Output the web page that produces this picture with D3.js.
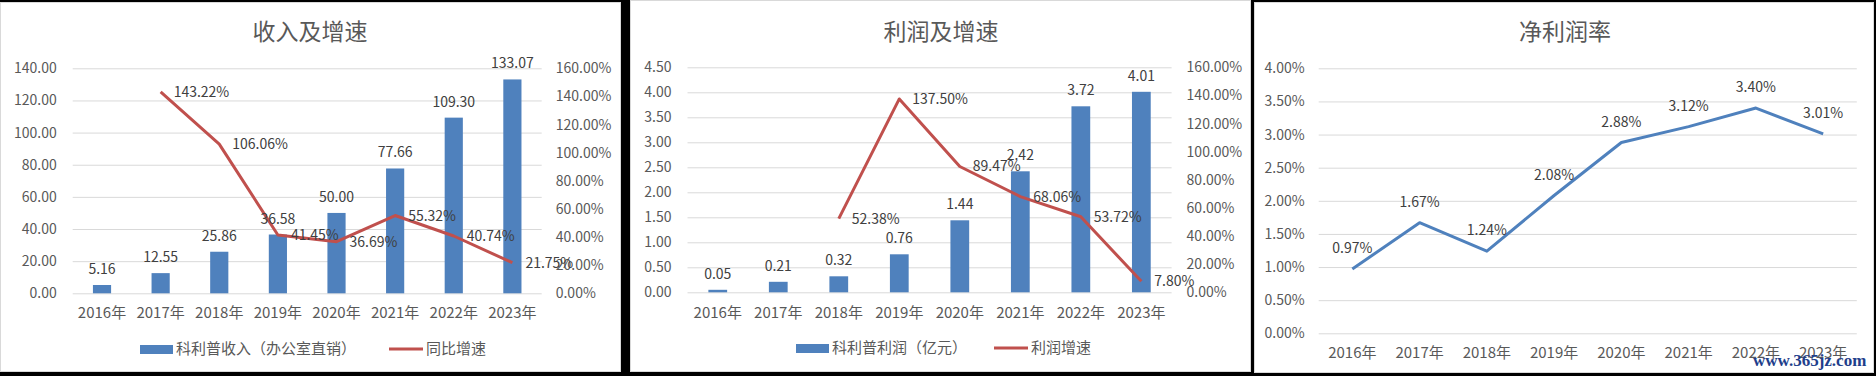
<!DOCTYPE html>
<html lang="zh">
<head>
<meta charset="UTF-8">
<title>科利普 收入 利润 净利润率</title>
<script src="https://cdn.jsdelivr.net/npm/d3@7"></script>
<style>
    html, body { margin: 0; height: 100%; overflow: hidden; background: #fff; }
    svg text { font-family: "Noto Sans CJK SC", "Noto Sans", sans-serif; }
</style>
</head>
<body>
<svg id="svg"></svg>
<script>
    // data
    const years = ['2016年', '2017年', '2018年', '2019年', '2020年', '2021年', '2022年', '2023年'];
    const revenue = [5.16, 12.55, 25.86, 36.58, 50.00, 77.66, 109.30, 133.07];
    const revenueGrowth = [null, 143.22, 106.06, 41.45, 36.69, 55.32, 40.74, 21.75];
    const profit = [0.05, 0.21, 0.32, 0.76, 1.44, 2.42, 3.72, 4.01];
    const profitGrowth = [null, null, 52.38, 137.50, 89.47, 68.06, 53.72, 7.80];
    const netMargin = [0.97, 1.67, 1.24, 2.08, 2.88, 3.12, 3.40, 3.01];

    const revenueTicks = [0, 20, 40, 60, 80, 100, 120, 140];
    const profitTicks = [0, 0.5, 1, 1.5, 2, 2.5, 3, 3.5, 4, 4.5];
    const growthTicks = [0, 20, 40, 60, 80, 100, 120, 140, 160];
    const marginTicks = [0, 0.5, 1, 1.5, 2, 2.5, 3, 3.5, 4];

    const W = 1876, H = 376;
    const BLUE = '#4f81bd', RED = '#c0504d', GRID = '#d9d9d9';
    const svg = d3.select('#svg').attr('width', W).attr('height', H);

    // frames
    svg.append('rect').attr('width', W).attr('height', H).attr('fill', '#000');
    const panels = [
        { x: 0.5, y: 2.5, w: 620, h: 369 },
        { x: 630.5, y: 0.5, w: 620, h: 371 },
        { x: 1254.5, y: 2.5, w: 619, h: 370 }
    ];
    svg.selectAll('rect.panel').data(panels).join('rect')
        .attr('class', 'panel')
        .attr('x', d => d.x).attr('y', d => d.y)
        .attr('width', d => d.w).attr('height', d => d.h)
        .attr('fill', '#fff').attr('stroke', '#d9d9d9');

    const title = (text, x) => svg.append('text')
        .attr('x', x).attr('y', 40)
        .attr('text-anchor', 'middle')
        .attr('font-size', 23)
        .attr('fill', '#595959')
        .text(text);

    const styleAxis = g => {
        g.select('.domain').remove();
        g.selectAll('.tick line').attr('stroke', GRID);
        g.selectAll('.tick text').attr('font-size', 14).attr('fill', '#595959')
            .style('font-family', '"Noto Sans CJK SC", sans-serif');
    };

    const drawCombo = opt => {
        const x = d3.scaleBand().domain(years).range([opt.left, opt.right])
            .paddingInner(0.69).paddingOuter(0.345);
        const y = d3.scaleLinear().domain(opt.yDomain).range([opt.bottom, opt.top]);
        const y2 = d3.scaleLinear().domain([0, 160]).range([opt.bottom, opt.top]);

        svg.append('g').attr('transform', `translate(${opt.left},0)`)
            .call(d3.axisLeft(y).tickValues(opt.ticks).tickSize(-(opt.right - opt.left))
                .tickPadding(opt.padL).tickFormat(d3.format('.2f')))
            .call(styleAxis);
        svg.append('g').attr('transform', `translate(${opt.right},0)`)
            .call(d3.axisRight(y2).tickValues(growthTicks).tickSize(0)
                .tickPadding(opt.padR).tickFormat(d => d.toFixed(2) + '%'))
            .call(styleAxis);

        const bars = years.map((c, i) => ({ c, v: opt.bars[i] }));
        svg.append('g').selectAll('rect').data(bars).join('rect')
            .attr('x', d => x(d.c))
            .attr('y', d => y(d.v))
            .attr('width', x.bandwidth())
            .attr('height', d => y(0) - y(d.v))
            .attr('fill', BLUE);

        const pts = years.map((c, i) => ({ c, v: opt.growth[i] })).filter(d => d.v != null);
        const cx = d => x(d.c) + x.bandwidth() / 2;
        svg.append('path').datum(pts)
            .attr('d', d3.line().x(cx).y(d => y2(d.v)))
            .attr('fill', 'none').attr('stroke', RED).attr('stroke-width', 3)
            .attr('stroke-linejoin', 'round');

        svg.append('g').selectAll('text').data(bars).join('text')
            .attr('x', cx).attr('y', d => y(d.v) - 11)
            .attr('text-anchor', 'middle').attr('font-size', 14).attr('fill', '#404040')
            .text(d => d.v.toFixed(2));
        svg.append('g').selectAll('text').data(pts).join('text')
            .attr('x', d => cx(d) + 13).attr('y', d => y2(d.v) + 5)
            .attr('font-size', 14).attr('fill', '#404040')
            .text(d => d.v.toFixed(2) + '%');

        svg.append('g').selectAll('text').data(years).join('text')
            .attr('x', d => x(d) + x.bandwidth() / 2).attr('y', 318)
            .attr('text-anchor', 'middle').attr('font-size', 15).attr('fill', '#595959')
            .text(d => d);

        // legend
        const lg = opt.legend;
        svg.append('rect').attr('x', lg.x).attr('y', lg.y - 4).attr('width', 33).attr('height', 9)
            .attr('fill', BLUE);
        svg.append('text').attr('x', lg.x + 36).attr('y', lg.y + 5)
            .attr('font-size', 15).attr('fill', '#595959').text(lg.barName);
        svg.append('line').attr('x1', lg.x2).attr('x2', lg.x2 + 34)
            .attr('y1', lg.y).attr('y2', lg.y)
            .attr('stroke', RED).attr('stroke-width', 3);
        svg.append('text').attr('x', lg.x2 + 37).attr('y', lg.y + 5)
            .attr('font-size', 15).attr('fill', '#595959').text(lg.lineName);
    };

    title('收入及增速', 310);
    drawCombo({
        left: 72.7, right: 541.7, top: 68.3, bottom: 293.3,
        yDomain: [0, 140], ticks: revenueTicks, padL: 16, padR: 14,
        bars: revenue, growth: revenueGrowth,
        legend: { x: 140, x2: 389, y: 349, barName: '科利普收入（办公室直销）', lineName: '同比增速' }
    });

    title('利润及增速', 941);
    drawCombo({
        left: 687.5, right: 1171.6, top: 67.3, bottom: 292.3,
        yDomain: [0, 4.5], ticks: profitTicks, padL: 16, padR: 15,
        bars: profit, growth: profitGrowth,
        legend: { x: 796, x2: 994, y: 348, barName: '科利普利润（亿元）', lineName: '利润增速' }
    });

    // net margin line chart
    title('净利润率', 1565);
    {
        const left = 1318.7, right = 1856.8, top = 68.3, bottom = 333.3;
        const x = d3.scalePoint().domain(years).range([left, right]).padding(0.5);
        const y = d3.scaleLinear().domain([0, 4]).range([bottom, top]);
        svg.append('g').attr('transform', `translate(${left},0)`)
            .call(d3.axisLeft(y).tickValues(marginTicks).tickSize(-(right - left))
                .tickPadding(14).tickFormat(d => d.toFixed(2) + '%'))
            .call(styleAxis);
        const pts = years.map((c, i) => ({ c, v: netMargin[i] }));
        svg.append('path').datum(pts)
            .attr('d', d3.line().x(d => x(d.c)).y(d => y(d.v)))
            .attr('fill', 'none').attr('stroke', BLUE).attr('stroke-width', 3)
            .attr('stroke-linejoin', 'round');
        svg.append('g').selectAll('text').data(pts).join('text')
            .attr('x', d => x(d.c)).attr('y', d => y(d.v) - 16)
            .attr('text-anchor', 'middle').attr('font-size', 14).attr('fill', '#404040')
            .text(d => d.v.toFixed(2) + '%');
        svg.append('g').selectAll('text').data(years).join('text')
            .attr('x', d => x(d)).attr('y', 358)
            .attr('text-anchor', 'middle').attr('font-size', 15).attr('fill', '#595959')
            .text(d => d);
    }

    // watermark
    svg.append('text').attr('x', 1753).attr('y', 366)
        .style('font-family', '"Liberation Serif", serif')
        .attr('font-weight', 'bold').attr('font-size', 17).attr('fill', '#1f3f8c')
        .text('www.365jz.com');
</script>
</body>
</html>
